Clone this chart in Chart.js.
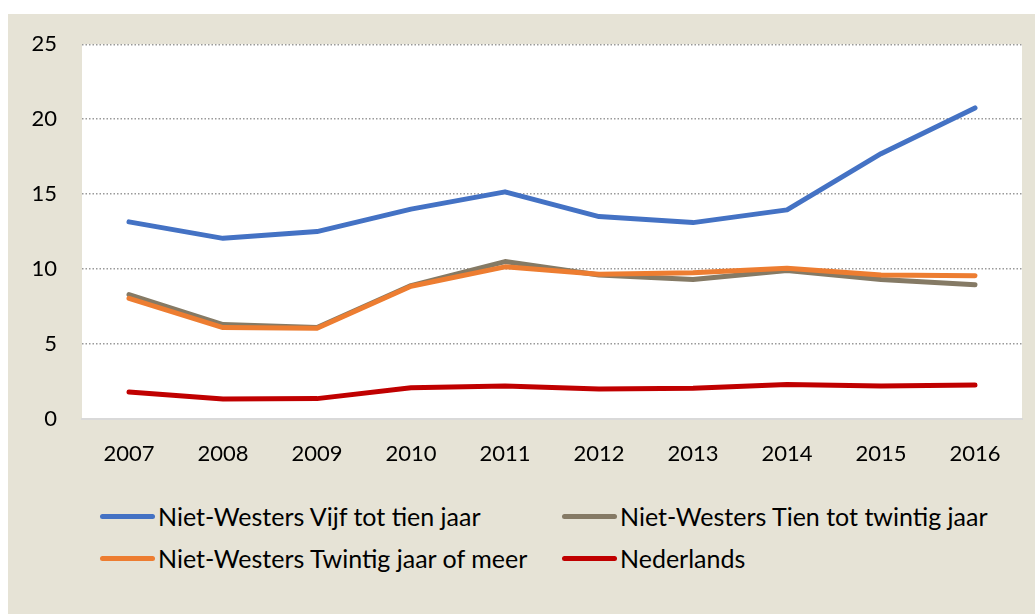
<!DOCTYPE html>
<html>
<head>
<meta charset="utf-8">
<script src="https://cdn.jsdelivr.net/npm/chart.js@4.4.1/dist/chart.umd.min.js"></script>
<style>
  html, body { margin: 0; padding: 0; background: #ffffff; }
  #frame { position: absolute; left: 8px; top: 14px; width: 1027px; height: 600px; background: #E6E3D6; overflow: hidden; }
  #chartBox { position: absolute; left: 0; top: -8px; width: 1027px; height: 478px; }
  #legend { position: absolute; left: 0; top: 480px; width: 1027px; font-family: Lato, "Open Sans", sans-serif; font-size: 25px; color: #000; }
  .item { position: absolute; display: flex; align-items: center; white-space: nowrap; }
  .swatch { width: 55px; height: 5px; border-radius: 3px; margin-right: 3px; }
</style>
</head>
<body>
<div id="frame">
  <div id="chartBox"><canvas id="chart"></canvas></div>
  <div id="legend"></div>
</div>
<script>
// Data
var years = ['2007', '2008', '2009', '2010', '2011', '2012', '2013', '2014', '2015', '2016'];
var seriesNames = ['Niet-Westers Vijf tot tien jaar', 'Niet-Westers Tien tot twintig jaar', 'Niet-Westers Twintig jaar of meer', 'Nederlands'];
var vijfTotTien = [13.15, 12.05, 12.5, 14.0, 15.15, 13.5, 13.1, 13.95, 17.7, 20.75];
var tienTotTwintig = [8.3, 6.3, 6.1, 8.9, 10.5, 9.6, 9.3, 9.9, 9.3, 8.95];
var twintigOfMeer = [8.05, 6.1, 6.05, 8.85, 10.15, 9.65, 9.75, 10.05, 9.6, 9.55];
var nederlands = [1.8, 1.33, 1.36, 2.08, 2.2, 2.0, 2.05, 2.3, 2.2, 2.27];
var yTicks = [0, 5, 10, 15, 20, 25];

var colors = ['#4472C4', '#857A65', '#ED7D31', '#C00000'];
var values = [vijfTotTien, tienTotTwintig, twintigOfMeer, nederlands];
var drawOrder = [3, 2, 1, 4]; // lower = drawn on top

var datasets = [];
for (var i = 0; i < values.length; i++) {
    datasets.push({
        label: seriesNames[i],
        data: values[i],
        borderColor: colors[i],
        backgroundColor: colors[i],
        borderWidth: 5,
        borderCapStyle: 'round',
        borderJoinStyle: 'round',
        pointRadius: 0,
        tension: 0,
        fill: false,
        order: drawOrder[i]
    });
}

var fontFamily = 'Lato, "Open Sans", sans-serif';

// white plot area
var plotBg = {
    id: 'plotBg',
    beforeDraw: function(chart) {
        var a = chart.chartArea;
        chart.ctx.save();
        chart.ctx.fillStyle = '#ffffff';
        chart.ctx.fillRect(a.left, a.top, a.right - a.left, a.bottom - a.top);
        chart.ctx.restore();
    }
};

var ctx = document.getElementById('chart').getContext('2d');
var myChart = new Chart(ctx, {
    type: 'line',
    data: { labels: years, datasets: datasets },
    plugins: [plotBg],
    options: {
        responsive: true,
        maintainAspectRatio: false,
        animation: false,
        layout: { autoPadding: false, padding: { top: 30, right: 13, left: 0, bottom: 0 } },
        plugins: {
            legend: { display: false },
            tooltip: { enabled: false }
        },
        scales: {
            x: {
                offset: true,
                grid: { display: false, drawTicks: false },
                border: { display: true, color: '#D9D9D9', width: 2 },
                ticks: { color: '#000', padding: 22, font: { family: fontFamily, size: 22 } },
                afterFit: function(scale) { scale.height = 65; }
            },
            y: {
                min: 0,
                max: 25,
                afterBuildTicks: function(scale) {
                    scale.ticks = yTicks.map(function(v) { return { value: v }; });
                },
                grid: {
                    drawTicks: false,
                    color: function(c) { return c.tick && c.tick.value === 0 ? 'rgba(0,0,0,0)' : '#999999'; },
                    lineWidth: 1.4
                },
                border: { display: false, dash: [1.5, 2] },
                ticks: { color: '#000', padding: 25, font: { family: fontFamily, size: 22 } },
                afterFit: function(scale) { scale.width = 74; }
            }
        }
    }
});

// legend in two columns, built from the datasets
var legend = document.getElementById('legend');
var colX = [92, 554];
var rowY = [7, 49];
for (var k = 0; k < seriesNames.length; k++) {
    var item = document.createElement('div');
    item.className = 'item';
    item.style.left = colX[k % 2] + 'px';
    item.style.top = rowY[Math.floor(k / 2)] + 'px';
    var sw = document.createElement('span');
    sw.className = 'swatch';
    sw.style.background = colors[k];
    var tx = document.createElement('span');
    tx.textContent = seriesNames[k];
    item.appendChild(sw);
    item.appendChild(tx);
    legend.appendChild(item);
}
</script>
</body>
</html>
